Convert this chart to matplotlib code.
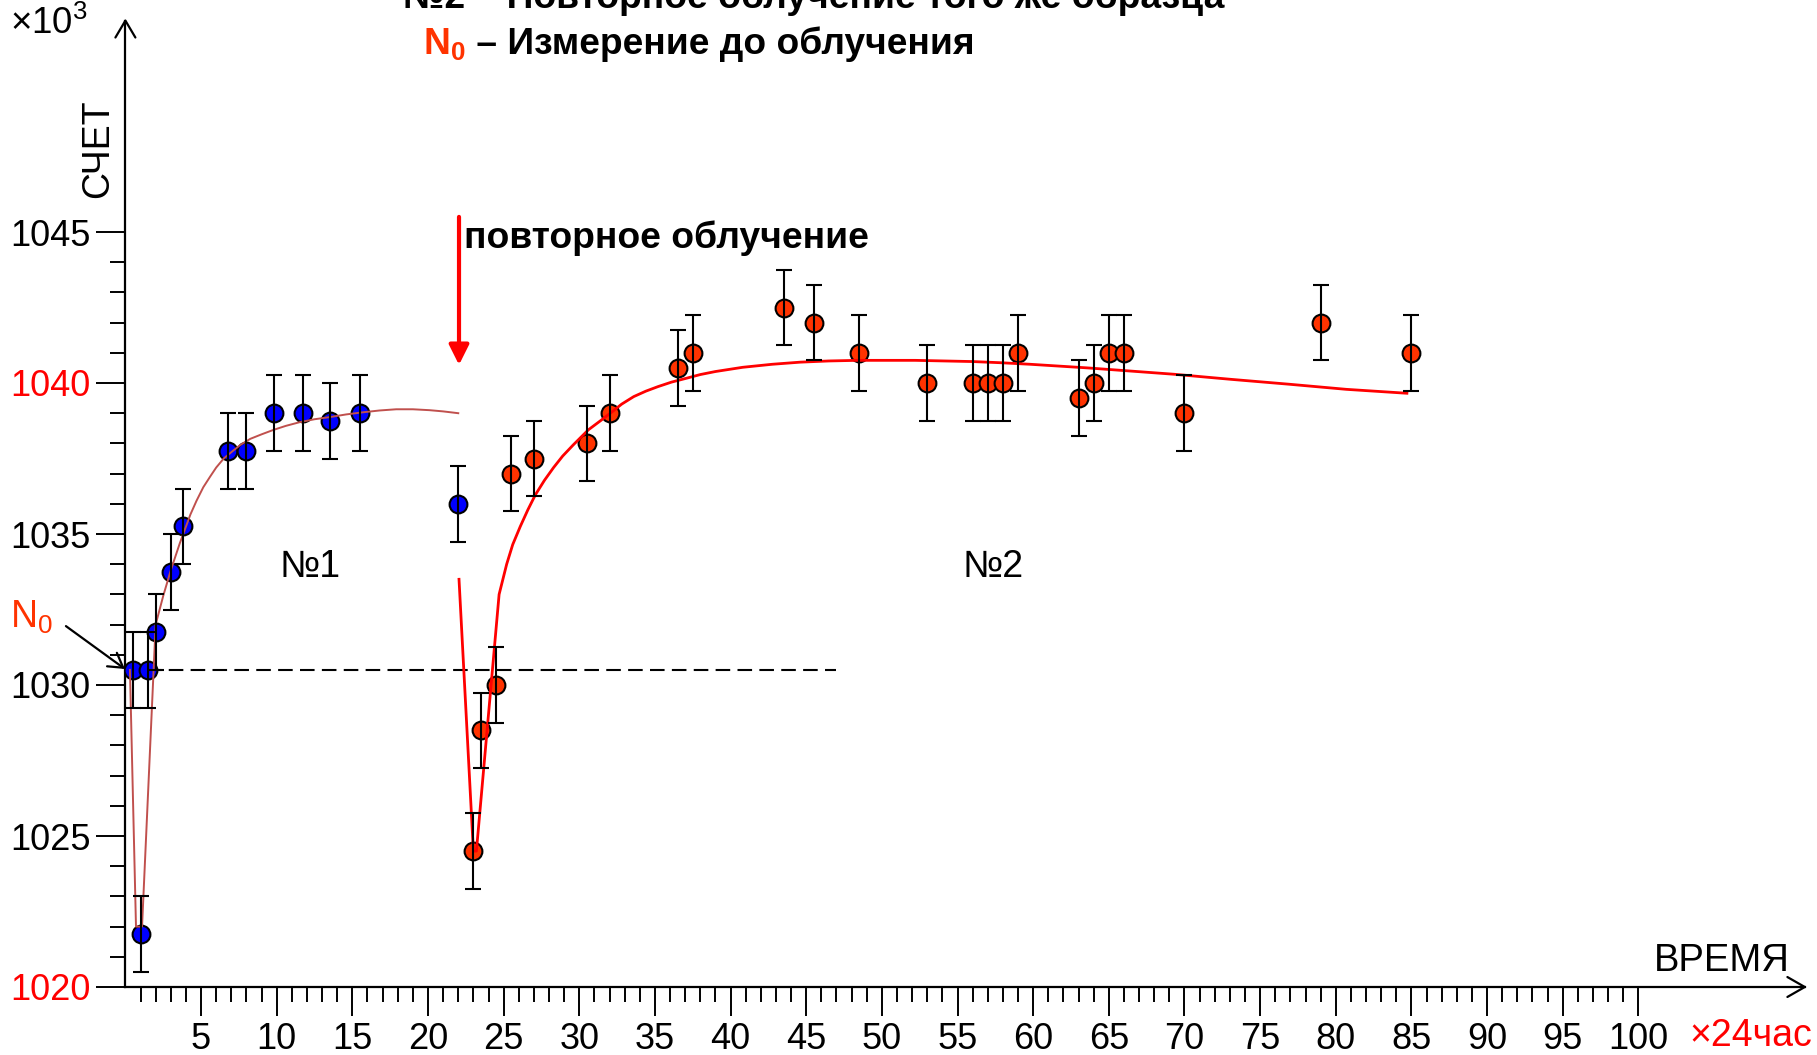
import matplotlib
matplotlib.use("Agg")
import matplotlib.pyplot as plt
from matplotlib.ticker import FixedLocator

plt.rcParams['font.family'] = ['Liberation Sans', 'DejaVu Sans']
plt.rcParams['mathtext.fontset'] = 'custom'
plt.rcParams['mathtext.rm'] = 'Liberation Sans'
plt.rcParams['mathtext.it'] = 'Liberation Sans:italic'
plt.rcParams['mathtext.bf'] = 'Liberation Sans:bold'

# ---- measurements: first irradiation (No.1), time in units of 24 h, count x10^3
t1 = [0.5, 1.0, 1.5, 2.0, 3.0, 3.8, 6.75, 8.0, 9.8, 11.75, 13.5, 15.5, 22.0]
n1 = [1030.5, 1021.75, 1030.5, 1031.75, 1033.75, 1035.25, 1037.75, 1037.75,
      1039.0, 1039.0, 1038.75, 1039.0, 1036.0]

# ---- measurements: repeated irradiation of the same sample (No.2)
t2 = [23.0, 23.5, 24.5, 25.5, 27.0, 30.5, 32.0, 36.5, 37.5, 43.5, 45.5, 48.5,
      53.0, 56.0, 57.0, 58.0, 59.0, 63.0, 64.0, 65.0, 66.0, 70.0, 79.0, 85.0]
n2 = [1024.5, 1028.5, 1030.0, 1037.0, 1037.5, 1038.0, 1039.0, 1040.5, 1041.0,
      1042.5, 1042.0, 1041.0, 1040.0, 1040.0, 1040.0, 1040.0, 1041.0, 1039.5,
      1040.0, 1041.0, 1041.0, 1039.0, 1042.0, 1041.0]

count_err = 1.25   # statistical error of each count, x10^3
n0_level = 1030.5  # count before irradiation
n0_line_end = 47.0

# ---- fitted recovery curves
fit1_t = [0.3, 0.7, 1.1, 2.0, 2.5, 3.0, 3.6, 4.3, 4.7, 5.15, 5.6, 6.0, 6.5,
          7.1, 7.6, 8.25, 9.0, 9.8, 10.6, 11.5, 12.5, 13.5, 14.6, 15.7, 16.8,
          17.9, 19.0, 20.1, 21.0, 22.0]
fit1_n = [1030.5, 1022.0, 1022.0, 1032.0, 1032.95, 1033.8, 1034.7, 1035.65,
          1036.1, 1036.55, 1036.9, 1037.2, 1037.5, 1037.75, 1037.95, 1038.15,
          1038.3, 1038.45, 1038.58, 1038.7, 1038.8, 1038.87, 1038.96, 1039.03,
          1039.09, 1039.13, 1039.13, 1039.1, 1039.06, 1039.0]
fit2_t = [22.05, 23.0, 23.2, 24.7, 25.2, 25.6, 26.1, 26.6, 27.1, 27.7, 28.3,
          28.9, 29.6, 30.6, 31.4, 32.05, 32.8, 33.6, 34.4, 35.2, 36.1, 37.1,
          38.0, 39.0, 40.8, 42.75, 44.6, 46.5, 48.4, 50.3, 52.2, 54.1, 56.0,
          57.9, 59.8, 61.7, 63.6, 65.5, 67.4, 69.3, 73.1, 76.9, 80.7, 84.7]
fit2_n = [1033.5, 1024.5, 1024.5, 1033.0, 1034.0, 1034.65, 1035.25, 1035.8,
          1036.3, 1036.78, 1037.2, 1037.58, 1037.95, 1038.45, 1038.75, 1039.0,
          1039.3, 1039.55, 1039.73, 1039.88, 1040.03, 1040.16, 1040.28,
          1040.38, 1040.52, 1040.62, 1040.69, 1040.73, 1040.75, 1040.75,
          1040.75, 1040.73, 1040.71, 1040.67, 1040.62, 1040.56, 1040.5,
          1040.43, 1040.36, 1040.29, 1040.12, 1039.96, 1039.79, 1039.66]

y_major = [1020, 1025, 1030, 1035, 1040, 1045]
y_minor = list(range(1020, 1046))
x_major = list(range(5, 101, 5))
x_minor = list(range(1, 101))
red_ylabels = ['1020', '1040']

W, H = 1817, 1055
fig = plt.figure(figsize=(W / 100, H / 100), dpi=100)
ax = fig.add_axes([125.4 / W, (H - 987) / H, 1679.4 / W, 966.4 / H])
ax.set_xlim(0, 111)
ax.set_ylim(1020, 1052)

for s in ('top', 'right'):
    ax.spines[s].set_visible(False)
for s in ('left', 'bottom'):
    ax.spines[s].set_linewidth(1.6)

# open arrow heads at the axis ends
ax.plot([111 - 1.15, 111, 111 - 1.15], [1020.33, 1020, 1019.67], color='black',
        lw=1.6, clip_on=False, solid_capstyle='round')
ax.plot([-0.66, 0, 0.66], [1052 - 0.56, 1052, 1052 - 0.56], color='black',
        lw=1.6, clip_on=False, solid_capstyle='round')

ax.yaxis.set_major_locator(FixedLocator(y_major))
ax.yaxis.set_minor_locator(FixedLocator(y_minor))
ax.xaxis.set_major_locator(FixedLocator(x_major))
ax.xaxis.set_minor_locator(FixedLocator(x_minor))
ax.set_yticklabels([str(v) for v in y_major])
ax.set_xticklabels([str(v) for v in x_major])
ax.tick_params(which='major', direction='out', length=21, width=1.4,
               labelsize=26, pad=4)
ax.tick_params(which='minor', direction='out', length=10.5, width=1.4)
for lab in ax.get_yticklabels():
    if lab.get_text() in red_ylabels:
        lab.set_color('#FF0000')

# N0 reference level
ax.plot([0, n0_line_end], [n0_level, n0_level], color='black', lw=1.5,
        ls=(0, (7, 3.5)), zorder=2)

# data points
ax.plot(t1, n1, 'o', ms=12.8, mfc='#0000FF', mec='black', mew=1.5, zorder=3)
ax.plot(t2, n2, 'o', ms=12.8, mfc='#FF3300', mec='black', mew=1.5, zorder=3)

# fit curves
ax.plot(fit1_t, fit1_n, color='#C0504D', lw=1.4, zorder=4)
ax.plot(fit2_t, fit2_n, color='#FF0000', lw=2.0, zorder=4)

# error bars
ax.errorbar(t1, n1, yerr=count_err, fmt='none', ecolor='black', elinewidth=1.5,
            capsize=5.5, capthick=1.5, zorder=5)
ax.errorbar(t2, n2, yerr=count_err, fmt='none', ecolor='black', elinewidth=1.5,
            capsize=5.5, capthick=1.5, zorder=5)

# labels inside the plot
ax.text(12.2, 1033.9, '№1', fontsize=27, ha='center', va='center')
ax.text(57.35, 1033.9, '№2', fontsize=27, ha='center', va='center')
ax.text(22.4, 1044.47, 'повторное облучение', fontsize=26.8, fontweight='bold',
        ha='left', va='baseline')
ax.annotate('', xy=(22.05, 1040.6), xytext=(22.05, 1045.5),
            arrowprops=dict(arrowstyle='-|>,head_length=0.6,head_width=0.3',
                            color='#FF0000', lw=3, mutation_scale=20,
                            shrinkA=0, shrinkB=0),
            annotation_clip=False)
ax.annotate('', xy=(-0.03, 1030.53), xytext=(-3.93, 1031.95),
            arrowprops=dict(arrowstyle='->,head_length=0.5,head_width=0.3',
                            color='black', lw=1.6, mutation_scale=20,
                            shrinkA=0, shrinkB=0),
            annotation_clip=False)

# texts around the axes
fig.text(10 / W, 1 - 628 / H, 'N$_0$', fontsize=27, color='#FF3300',
         va='baseline')
fig.text(10 / W, 1 - 34 / H, '×10$^3$', fontsize=26.5, va='baseline')
fig.text(98.5 / W, 1 - 149 / H, 'СЧЕТ', rotation=90, fontsize=27,
         ha='center', va='center')
fig.text(1790 / W, 1 - 961 / H, 'ВРЕМЯ', fontsize=27.5, ha='right', va='center')
fig.text(1689 / W, 1 - 1036 / H, '×24час', fontsize=27, color='#FF0000',
         va='center')

# header lines
fig.text(403 / W, 1 - 8 / H, '№2 – Повторное облучение того же образца',
         fontsize=26.8, fontweight='bold', va='baseline')
renderer = fig.canvas.get_renderer()
head = fig.text(423 / W, 1 - 54 / H, r'$\mathbf{N_0}$', fontsize=26.7,
                color='#FF3300', va='baseline')
bb = head.get_window_extent(renderer)
fig.text(bb.x1 / W, 1 - 54 / H, ' – Измерение до облучения', fontsize=26.7,
         fontweight='bold', va='baseline')

fig.savefig('out.png', dpi=100)
